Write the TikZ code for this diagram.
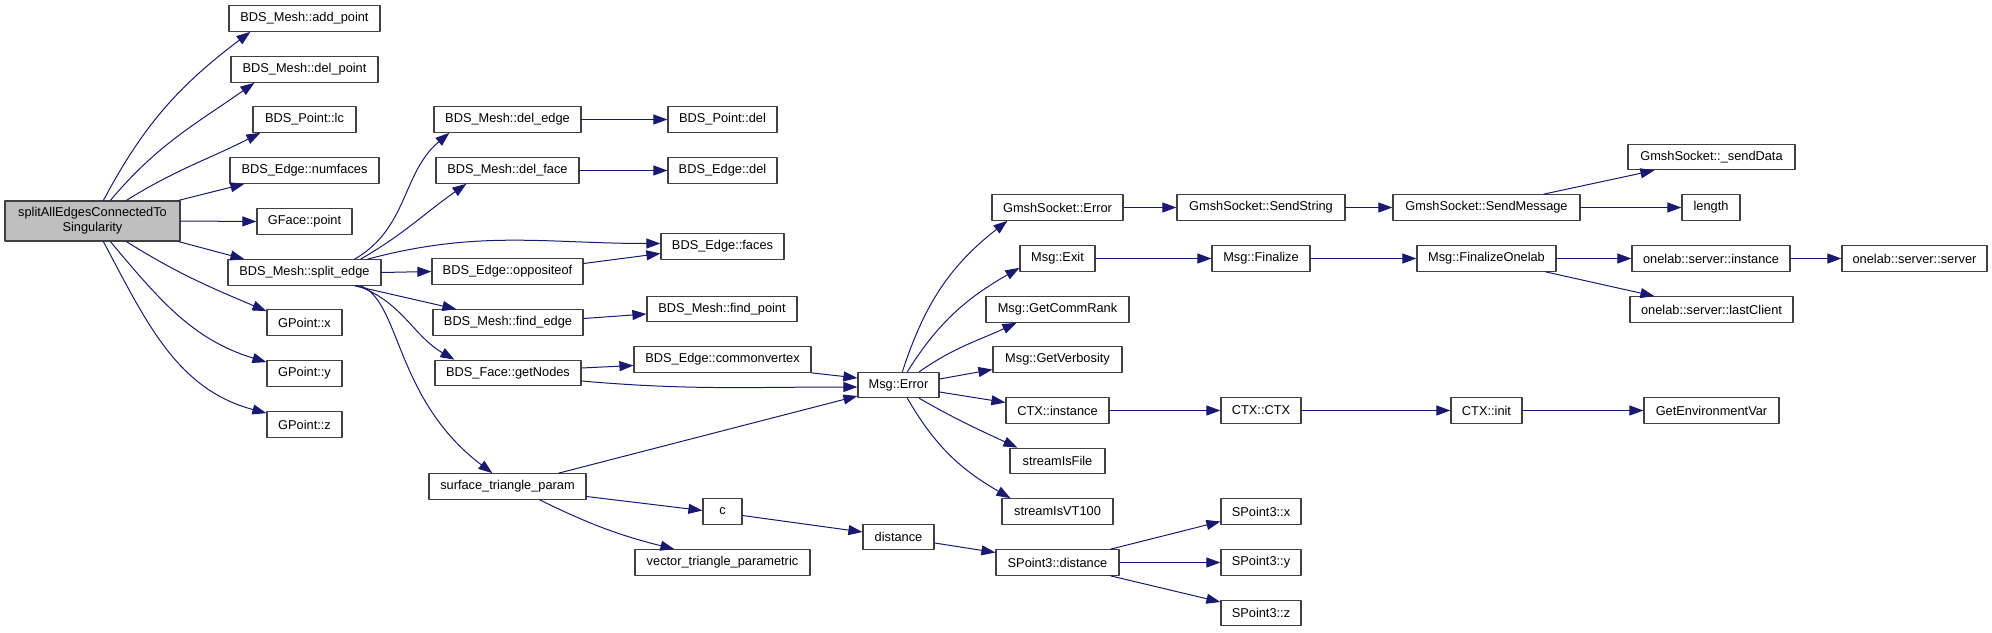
\documentclass[tikz,border=0pt]{standalone}
\usepackage{fontspec}
\setmainfont{Liberation Sans}
\usetikzlibrary{arrows.meta}
\definecolor{callblue}{HTML}{191970}
\definecolor{boxgray}{HTML}{404040}
\definecolor{rootfill}{HTML}{BFBFBF}
\begin{document}
\begin{tikzpicture}[x=1pt,y=1pt,line cap=round,line join=round,
  fn/.style={draw=boxgray,line width=1.2pt,fill=white,minimum height=25.5pt,
    inner sep=0pt,font=\fontsize{12.8}{15}\selectfont},
  call/.style={draw=callblue,line width=1pt,-{Triangle[length=14pt,width=10pt]}}]
  \useasboundingbox (0,0) rectangle (1992,-632);

  % Root
  \node[fn,fill=rootfill,minimum width=175pt,minimum height=40pt,align=center]
    (split) at (92.5,-221) {splitAllEdgesConnectedTo\\Singularity};

  % Rank 1
  \node[fn,minimum width=151pt] (addpoint)  at (304.5,-18.5)  {BDS\_Mesh::add\_point};
  \node[fn,minimum width=147pt] (delpoint)  at (304.5,-69.5)  {BDS\_Mesh::del\_point};
  \node[fn,minimum width=103pt] (lc)        at (304.5,-119.5) {BDS\_Point::lc};
  \node[fn,minimum width=149pt] (numfaces)  at (304.5,-170.5) {BDS\_Edge::numfaces};
  \node[fn,minimum width=95pt]  (gface)     at (304.5,-221.5) {GFace::point};
  \node[fn,minimum width=153pt] (splitedge) at (304.5,-272.5) {BDS\_Mesh::split\_edge};
  \node[fn,minimum width=75pt]  (gx)        at (304.5,-322.5) {GPoint::x};
  \node[fn,minimum width=75pt]  (gy)        at (304.5,-373.5) {GPoint::y};
  \node[fn,minimum width=75pt]  (gz)        at (304.5,-424.5) {GPoint::z};

  % Rank 2
  \node[fn,minimum width=147pt] (deledge)   at (507.5,-119.5) {BDS\_Mesh::del\_edge};
  \node[fn,minimum width=143pt] (delface)   at (507.5,-170.5) {BDS\_Mesh::del\_face};
  \node[fn,minimum width=151pt] (opp)       at (507.5,-271.5) {BDS\_Edge::oppositeof};
  \node[fn,minimum width=150pt] (findedge)  at (508,-322.5)   {BDS\_Mesh::find\_edge};
  \node[fn,minimum width=146pt] (getnodes)  at (508,-373)     {BDS\_Face::getNodes};
  \node[fn,minimum width=157pt] (surf)      at (507.5,-486.5) {surface\_triangle\_param};

  % Rank 3
  \node[fn,minimum width=109pt] (ptdel)     at (722.5,-119.5) {BDS\_Point::del};
  \node[fn,minimum width=109pt] (edgedel)   at (722.5,-170.5) {BDS\_Edge::del};
  \node[fn,minimum width=123pt] (faces)     at (722.5,-246.5) {BDS\_Edge::faces};
  \node[fn,minimum width=150pt] (findpoint) at (722,-309)     {BDS\_Mesh::find\_point};
  \node[fn,minimum width=177pt] (cvertex)   at (722.5,-359.5) {BDS\_Edge::commonvertex};
  \node[fn,minimum width=39pt]  (c)         at (722.5,-511.5) {c};
  \node[fn,minimum width=175pt] (vtp)       at (722.5,-562.5) {vector\_triangle\_parametric};

  % Rank 4
  \node[fn,minimum width=81pt]  (msgerror)  at (898.5,-385)   {Msg::Error};
  \node[fn,minimum width=71pt]  (distance)  at (898.5,-537)   {distance};

  % Rank 5
  \node[fn,minimum width=131pt] (gserror)   at (1057.5,-207.5) {GmshSocket::Error};
  \node[fn,minimum width=75pt]  (msgexit)   at (1057.5,-258.5) {Msg::Exit};
  \node[fn,minimum width=143pt] (commrank)  at (1057.5,-309.5) {Msg::GetCommRank};
  \node[fn,minimum width=129pt] (verbosity) at (1057.5,-359.5) {Msg::GetVerbosity};
  \node[fn,minimum width=103pt] (ctxinst)   at (1057.5,-410.5) {CTX::instance};
  \node[fn,minimum width=95pt]  (isfile)    at (1057.5,-461)   {streamIsFile};
  \node[fn,minimum width=111pt] (isvt)      at (1057.5,-511.5) {streamIsVT100};
  \node[fn,minimum width=123pt] (spdist)    at (1057.5,-562.5) {SPoint3::distance};

  % Rank 6
  \node[fn,minimum width=168pt] (sendstring) at (1261,-207.5) {GmshSocket::SendString};
  \node[fn,minimum width=98pt]  (finalize)   at (1261,-258.5) {Msg::Finalize};
  \node[fn,minimum width=80pt]  (ctxctx)     at (1261,-410.5) {CTX::CTX};
  \node[fn,minimum width=80pt]  (spx)        at (1261,-511.5) {SPoint3::x};
  \node[fn,minimum width=80pt]  (spy)        at (1261,-562.5) {SPoint3::y};
  \node[fn,minimum width=80pt]  (spz)        at (1261,-613)   {SPoint3::z};

  % Rank 7
  \node[fn,minimum width=187pt] (sendmsg)   at (1486.5,-207.5) {GmshSocket::SendMessage};
  \node[fn,minimum width=139pt] (finonelab) at (1486.5,-258.5) {Msg::FinalizeOnelab};
  \node[fn,minimum width=71pt]  (ctxinit)   at (1486.5,-410.5) {CTX::init};

  % Rank 8
  \node[fn,minimum width=167pt] (senddata)  at (1711.5,-157)   {GmshSocket::\_sendData};
  \node[fn,minimum width=58pt]  (length)    at (1711,-207.5)   {length};
  \node[fn,minimum width=158pt] (olinst)    at (1711,-258.5)   {onelab::server::instance};
  \node[fn,minimum width=163pt] (lastclient) at (1711.5,-309.5) {onelab::server::lastClient};
  \node[fn,minimum width=135pt] (getenv)    at (1711.5,-410.5) {GetEnvironmentVar};

  % Rank 9
  \node[fn,minimum width=145pt] (olserver)  at (1914.5,-258.5) {onelab::server::server};

  % Calls from the root
  \draw[call] ([xshift=99pt]split.north west) to[out=62,in=217] ([xshift=22pt]addpoint.south west);
  \draw[call] ([xshift=106pt]split.north west) to[out=50,in=215] ([xshift=24pt]delpoint.south west);
  \draw[call] ([xshift=122pt]split.north west) to[out=32,in=207] ([xshift=8pt]lc.south west);
  \draw[call] ([xshift=-2pt]split.north east) -- ([xshift=15pt]numfaces.south west);
  \draw[call] (split.east) -- (gface.west);
  \draw[call] ([xshift=-2pt]split.south east) -- ([xshift=17pt]splitedge.north west);
  \draw[call] ([xshift=122pt]split.south west) to[out=-32,in=157] ([yshift=-2pt]gx.north west);
  \draw[call] ([xshift=106pt]split.south west) to[out=-50,in=163] ([yshift=-2pt]gy.north west);
  \draw[call] ([xshift=99pt]split.south west) to[out=-62,in=165] ([yshift=-2pt]gz.north west);

  % Calls from split_edge
  \draw[call] ([xshift=-27pt]splitedge.north east) to[out=30,in=220] ([xshift=16pt]deledge.south west);
  \draw[call] ([xshift=-21pt]splitedge.north east) to[out=30,in=215] ([xshift=31pt]delface.south west);
  \draw[call] ([xshift=-14pt]splitedge.north east) to[out=15,in=180] ([yshift=3pt]faces.west);
  \draw[call] (splitedge.east) -- (opp.west);
  \draw[call] ([xshift=-27pt]splitedge.south east) -- ([xshift=24pt]findedge.north west);
  \draw[call] ([xshift=-24pt]splitedge.south east) to[out=-20,in=150] ([xshift=20pt]getnodes.north west);
  \draw[call] ([xshift=-21pt]splitedge.south east)
    .. controls +(40,-15) and +(-98,74) .. ([xshift=64pt]surf.north west);

  % Rank 2 calls
  \draw[call] (deledge.east) -- (ptdel.west);
  \draw[call] (delface.east) -- (edgedel.west);
  \draw[call] ([yshift=8pt]opp.east) -- ([yshift=-7pt]faces.west);
  \draw[call] ([yshift=4pt]findedge.east) -- ([yshift=-5pt]findpoint.west);
  \draw[call] ([yshift=5pt]getnodes.east) -- ([yshift=-6pt]cvertex.west);
  \draw[call] ([yshift=-8pt]getnodes.east) to[out=-5,in=180] ([yshift=-2pt]msgerror.west);
  \draw[call] (cvertex.south east) -- ([yshift=7pt]msgerror.west);
  \draw[call] ([xshift=-28pt]surf.north east) -- ([yshift=-11pt]msgerror.west);
  \draw[call] ([yshift=-10pt]surf.east) -- ([yshift=1pt]c.west);
  \draw[call] ([xshift=-47pt]surf.south east) to[bend right=6] ([xshift=40pt]vtp.north west);
  \draw[call] ([yshift=-4pt]c.east) -- ([yshift=5pt]distance.west);
  \draw[call] ([yshift=-6pt]distance.east) -- ([yshift=10pt]spdist.west);

  % Calls from Msg::Error
  \draw[call] ([xshift=45pt]msgerror.north west) to[out=72,in=218] ([xshift=16pt]gserror.south west);
  \draw[call] ([xshift=50pt]msgerror.north west) to[out=58,in=210] ([yshift=4pt]msgexit.south west);
  \draw[call] ([xshift=62pt]msgerror.north west) to[out=35,in=205] ([xshift=31pt]commrank.south west);
  \draw[call] ([yshift=6pt]msgerror.east) -- ([yshift=-10pt]verbosity.west);
  \draw[call] ([yshift=-7pt]msgerror.east) -- ([yshift=8pt]ctxinst.west);
  \draw[call] ([xshift=62pt]msgerror.south west) to[out=-30,in=155] ([xshift=8pt]isfile.north west);
  \draw[call] ([xshift=50pt]msgerror.south west) to[out=-60,in=150] ([xshift=9pt]isvt.north west);

  % SPoint3 members
  \draw[call] ([xshift=-9pt]spdist.north east) -- ([yshift=-10pt]spx.west);
  \draw[call] (spdist.east) -- (spy.west);
  \draw[call] ([xshift=-9pt]spdist.south east) -- ([yshift=11pt]spz.west);

  % Socket chain
  \draw[call] (gserror.east) -- (sendstring.west);
  \draw[call] (sendstring.east) -- (sendmsg.west);
  \draw[call] ([xshift=-37pt]sendmsg.north east) -- ([xshift=27pt]senddata.south west);
  \draw[call] (sendmsg.east) -- (length.west);

  % Finalize chain
  \draw[call] (msgexit.east) -- (finalize.west);
  \draw[call] (finalize.east) -- (finonelab.west);
  \draw[call] (finonelab.east) -- (olinst.west);
  \draw[call] (olinst.east) -- (olserver.west);
  \draw[call] ([xshift=-11pt]finonelab.south east) -- ([xshift=25pt]lastclient.north west);

  % Context chain
  \draw[call] (ctxinst.east) -- (ctxctx.west);
  \draw[call] (ctxctx.east) -- (ctxinit.west);
  \draw[call] (ctxinit.east) -- (getenv.west);
\end{tikzpicture}
\end{document}
